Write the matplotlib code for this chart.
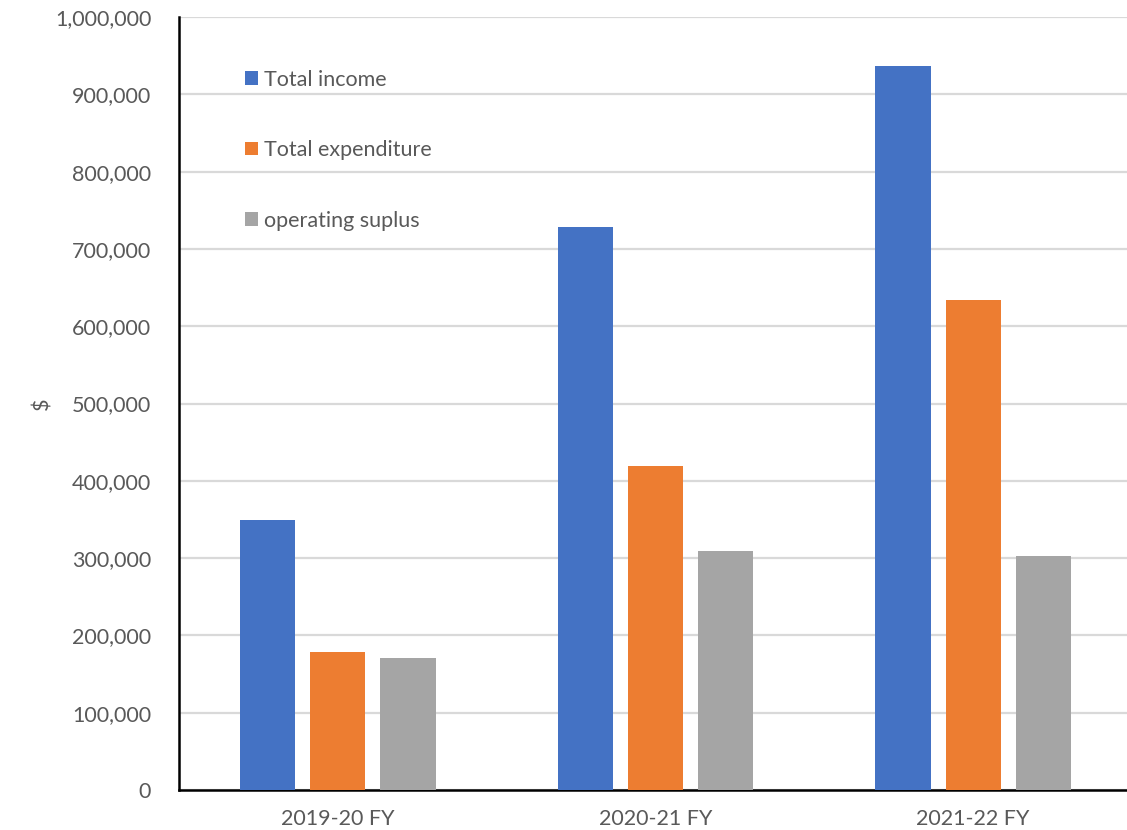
import matplotlib
matplotlib.use("Agg")
import matplotlib.pyplot as plt
import numpy as np
from matplotlib.ticker import FuncFormatter

categories = ["2019-20 FY", "2020-21 FY", "2021-22 FY"]
series_names = ["Total income", "Total expenditure", "operating suplus"]
total_income = [349000, 728000, 937000]
total_expenditure = [178000, 419000, 634000]
operating_surplus = [171000, 309000, 303000]
colors = ["#4472C4", "#ED7D31", "#A5A5A5"]

plt.rcParams["font.family"] = ["Lato", "DejaVu Sans"]
text_color = "#595959"
fs = 15.5

W, H = 1127, 830
fig = plt.figure(figsize=(W / 100, H / 100), dpi=100)
ax = fig.add_axes([179 / W, 1 - 790 / H, 953 / W, (790 - 17) / H])

x = np.arange(len(categories))
bar_w = 0.174
step = 0.221
for i, (vals, name, col) in enumerate(zip(
        [total_income, total_expenditure, operating_surplus], series_names, colors)):
    ax.bar(x + (i - 1) * step, vals, width=bar_w, color=col, label=name, zorder=3)

ax.set_xlim(-0.5, 2.5)
ax.set_ylim(0, 1000000)
ax.set_yticks(np.arange(0, 1000001, 100000))
ax.yaxis.set_major_formatter(FuncFormatter(lambda v, p: f"{int(v):,}"))
ax.set_xticks(x)
ax.set_xticklabels(categories)
ax.tick_params(axis="both", length=0, labelsize=fs, labelcolor=text_color)
ax.tick_params(axis="y", pad=20)
ax.tick_params(axis="x", pad=14)
ax.grid(axis="y", color="#D9D9D9", linewidth=1.6, zorder=0)
ax.set_axisbelow(True)
for s in ["top", "right"]:
    ax.spines[s].set_visible(False)
ax.spines["left"].set_linewidth(1.8)
ax.spines["bottom"].set_linewidth(1.8)
ax.spines["left"].set_color("black")
ax.spines["bottom"].set_color("black")

ax.set_ylabel("$", fontsize=fs, color=text_color, labelpad=2)

leg = ax.legend(loc="upper left", bbox_to_anchor=(57 / 953, 1 - 44 / 773),
                frameon=False, fontsize=fs, labelcolor=text_color,
                handlelength=0.6, handleheight=0.6, handletextpad=0.3,
                labelspacing=2.35, borderaxespad=0)

fig.savefig("out.png", dpi=100, facecolor="white")
